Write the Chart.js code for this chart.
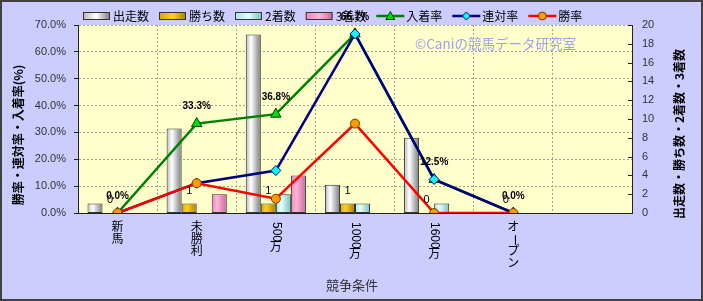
<!DOCTYPE html>
<html>
<head>
<meta charset="utf-8">
<script src="https://cdn.jsdelivr.net/npm/chart.js@4.4.1/dist/chart.umd.min.js"></script>
<style>
  html, body { margin: 0; padding: 0; background: #ccccff; overflow: hidden; }
</style>
</head>
<body>
<canvas id="myChart" width="703" height="301"></canvas>
<script>
var categories = ['新馬', '未勝利', '500万', '1000万', '1600万', 'オープン', ''];
var runs = [1, 9, 19, 3, 8, 0, null];
var wins = [0, 1, 1, 1, 0, 0, null];
var seconds = [0, 0, 2, 1, 1, 0, null];
var thirds = [0, 2, 4, 0, 0, 0, null];
var placeRate = [0, 33.3, 36.8, 66.7, 12.5, 0, null];
var quinellaRate = [0, 11.1, 15.8, 66.7, 12.5, 0, null];
var winRate = [0, 11.1, 5.3, 33.3, 0, 0, null];
var leftTicks = [0, 10, 20, 30, 40, 50, 60, 70];
var rightTicks = [0, 2, 4, 6, 8, 10, 12, 14, 16, 18, 20];

var CJK = "'Noto Sans CJK JP', sans-serif";
var NUM = "'Liberation Sans', 'Noto Sans CJK JP', sans-serif";

// cylinder-like gradients for the bars
var barStops = {
  '出走数': [[0, '#b8b8b8'], [0.35, '#ffffff'], [1, '#7a7a7a']],
  '勝ち数': [[0, '#d9a400'], [0.35, '#ffd21a'], [1, '#a87e00']],
  '2着数': [[0, '#a8e4e4'], [0.35, '#e4ffff'], [1, '#78c0c0']],
  '3着数': [[0, '#e888b8'], [0.35, '#ffb4da'], [1, '#c86898']]
};

function makeGrad(ctx, x0, x1, stops) {
  var g = ctx.createLinearGradient(x0, 0, x1, 0);
  stops.forEach(function (s) { g.addColorStop(s[0], s[1]); });
  return g;
}

function zeroless(c) { return c.raw ? 1 : 0; }

var bgPlugin = {
  id: 'bg',
  beforeDraw: function (chart) {
    var ctx = chart.ctx, a = chart.chartArea;
    ctx.save();
    ctx.fillStyle = '#ccccff';
    ctx.fillRect(0, 0, chart.width, chart.height);
    ctx.fillStyle = '#ffffcc';
    ctx.fillRect(a.left, a.top, a.right - a.left, a.bottom - a.top);
    ctx.restore();
  },
  beforeDatasetsDraw: function (chart) {
    var ctx = chart.ctx;
    // watermark
    ctx.save();
    ctx.fillStyle = '#a0a0f0';
    ctx.font = '13.5px ' + CJK;
    ctx.textAlign = 'left';
    ctx.textBaseline = 'middle';
    ctx.fillText('©Caniの競馬データ研究室', 415, 44);
    ctx.restore();
    // bar gradients
    chart.data.datasets.forEach(function (ds, i) {
      if (ds.type !== 'bar') return;
      chart.getDatasetMeta(i).data.forEach(function (el) {
        el.options.backgroundColor = makeGrad(ctx, el.x - el.width / 2, el.x + el.width / 2, barStops[ds.label]);
      });
    });
  },
  afterDatasetsDraw: function (chart) {
    var ctx = chart.ctx;
    ctx.save();
    ctx.fillStyle = '#000';
    ctx.textAlign = 'center';
    ctx.textBaseline = 'middle';
    chart.data.datasets.forEach(function (ds, i) {
      var meta = chart.getDatasetMeta(i);
      if (ds.label === '勝ち数') {
        ctx.font = '11px ' + NUM;
        meta.data.forEach(function (el, j) {
          if (ds.data[j] === null) return;
          ctx.fillText(String(ds.data[j]), el.x, el.y - 13);
        });
      }
      if (ds.label === '入着率') {
        ctx.font = 'bold 10px ' + NUM;
        meta.data.forEach(function (el, j) {
          if (ds.data[j] === null) return;
          ctx.fillText(ds.data[j].toFixed(1) + '%', el.x, el.y - 17);
        });
      }
    });
    ctx.restore();
  },
  afterDraw: function (chart) {
    var ctx = chart.ctx, a = chart.chartArea;
    var xs = chart.scales.x, y2 = chart.scales.y2;
    ctx.save();

    // inward ticks on the right axis
    ctx.strokeStyle = '#222';
    ctx.lineWidth = 1;
    rightTicks.forEach(function (v) {
      var py = Math.round(y2.getPixelForValue(v)) + 0.5;
      ctx.beginPath();
      ctx.moveTo(a.right - 4, py);
      ctx.lineTo(a.right, py);
      ctx.stroke();
    });

    // vertical category labels
    ctx.fillStyle = '#000';
    ctx.font = '12px ' + NUM;
    categories.forEach(function (label, i) {
      var x = xs.getPixelForValue(i), y = a.bottom + 9;
      for (var ch of label) {
        if (/[0-9A-Za-zー]/.test(ch)) {
          var w = ctx.measureText(ch).width;
          ctx.save();
          ctx.translate(x, y);
          ctx.rotate(Math.PI / 2);
          ctx.textAlign = 'left';
          ctx.textBaseline = 'middle';
          ctx.fillText(ch, 0, 0);
          ctx.restore();
          y += w;
        } else {
          ctx.textAlign = 'center';
          ctx.textBaseline = 'top';
          ctx.fillText(ch, x, y);
          y += 12;
        }
      }
    });

    // axis titles
    ctx.fillStyle = '#333';
    ctx.font = '13px ' + CJK;
    ctx.textAlign = 'center';
    ctx.textBaseline = 'middle';
    ctx.fillText('競争条件', (a.left + a.right) / 2 - 3, 285);

    ctx.fillStyle = '#000';
    ctx.font = 'bold 12px ' + CJK;
    ctx.save();
    ctx.translate(18, 135);
    ctx.rotate(-Math.PI / 2);
    ctx.fillText('勝率・連対率・入着率(%)', 0, 0);
    ctx.restore();
    ctx.save();
    ctx.translate(679, 134);
    ctx.rotate(-Math.PI / 2);
    ctx.fillText('出走数・勝ち数・2着数・3着数', 0, 0);
    ctx.restore();

    // legend
    var x = 83, ly = 16;
    ctx.textAlign = 'left';
    ctx.font = '12px ' + CJK;
    chart.data.datasets.slice().sort(function (p, q) { return p.legendPos - q.legendPos; }).forEach(function (ds) {
      if (ds.type === 'bar') {
        ctx.fillStyle = makeGrad(ctx, x, x + 27, [[0, barStops[ds.label][0][1]], [0.5, barStops[ds.label][1][1]], [1, barStops[ds.label][2][1]]]);
        ctx.fillRect(x + 0.5, ly - 3.5, 26, 7);
        ctx.strokeStyle = '#333';
        ctx.lineWidth = 1;
        ctx.strokeRect(x + 0.5, ly - 3.5, 26, 7);
      } else {
        ctx.strokeStyle = ds.borderColor;
        ctx.lineWidth = 2.5;
        ctx.beginPath();
        ctx.moveTo(x, ly);
        ctx.lineTo(x + 28, ly);
        ctx.stroke();
        var cx = x + 14;
        ctx.fillStyle = ds.pointBackgroundColor;
        ctx.strokeStyle = ds.pointBorderColor;
        ctx.lineWidth = 1;
        ctx.beginPath();
        if (ds.pointStyle === 'triangle') {
          ctx.moveTo(cx, ly - 4.5); ctx.lineTo(cx + 4.5, ly + 3.5); ctx.lineTo(cx - 4.5, ly + 3.5); ctx.closePath();
        } else if (ds.pointStyle === 'rectRot') {
          ctx.moveTo(cx, ly - 4); ctx.lineTo(cx + 4, ly); ctx.lineTo(cx, ly + 4); ctx.lineTo(cx - 4, ly); ctx.closePath();
        } else {
          ctx.arc(cx, ly, 4, 0, Math.PI * 2);
        }
        ctx.fill();
        ctx.stroke();
      }
      ctx.fillStyle = '#000';
      ctx.fillText(ds.label, x + 30, ly);
      x += 30 + ctx.measureText(ds.label).width + 10;
    });

    // outer frame
    ctx.strokeStyle = '#404040';
    ctx.lineWidth = 2;
    ctx.strokeRect(1, 1, chart.width - 2, chart.height - 2);
    ctx.restore();
  }
};

var ctx = document.getElementById('myChart').getContext('2d');
var myChart = new Chart(ctx, {
  type: 'bar',
  data: {
    labels: categories,
    datasets: [
      {
        type: 'line', label: '勝率', data: winRate, yAxisID: 'y', order: 0, legendPos: 6,
        borderColor: '#ff0000', borderWidth: 2.5, tension: 0,
        pointStyle: 'circle', pointRadius: 4.5, pointBackgroundColor: '#ff9900',
        pointBorderColor: '#7a3d00', pointBorderWidth: 1
      },
      {
        type: 'line', label: '連対率', data: quinellaRate, yAxisID: 'y', order: 1, legendPos: 5,
        borderColor: '#000080', borderWidth: 2.5, tension: 0,
        pointStyle: 'rectRot', pointRadius: 5, pointBackgroundColor: '#00ffff',
        pointBorderColor: '#000080', pointBorderWidth: 1
      },
      {
        type: 'line', label: '入着率', data: placeRate, yAxisID: 'y', order: 2, legendPos: 4,
        borderColor: '#008000', borderWidth: 2.5, tension: 0,
        pointStyle: 'triangle', pointRadius: 6, pointBackgroundColor: '#00dd00',
        pointBorderColor: '#004000', pointBorderWidth: 1
      },
      {
        type: 'bar', label: '出走数', data: runs, yAxisID: 'y2', order: 3, legendPos: 0,
        backgroundColor: '#ffffff', borderColor: '#333', borderWidth: zeroless, borderSkipped: false
      },
      {
        type: 'bar', label: '勝ち数', data: wins, yAxisID: 'y2', order: 3, legendPos: 1,
        backgroundColor: '#ffc000', borderColor: '#333', borderWidth: zeroless, borderSkipped: false
      },
      {
        type: 'bar', label: '2着数', data: seconds, yAxisID: 'y2', order: 3, legendPos: 2,
        backgroundColor: '#ccffff', borderColor: '#333', borderWidth: zeroless, borderSkipped: false
      },
      {
        type: 'bar', label: '3着数', data: thirds, yAxisID: 'y2', order: 3, legendPos: 3,
        backgroundColor: '#ff99cc', borderColor: '#333', borderWidth: zeroless, borderSkipped: false
      }
    ]
  },
  options: {
    responsive: false,
    animation: false,
    events: [],
    devicePixelRatio: 1,
    layout: { padding: { top: 25, left: 0, right: 0, bottom: 0 } },
    datasets: { bar: { categoryPercentage: 0.76, barPercentage: 1 } },
    plugins: {
      legend: { display: false },
      tooltip: { enabled: false }
    },
    scales: {
      x: {
        offset: true,
        ticks: { display: false },
        grid: { display: true, offset: true, color: '#a0a0a0', drawTicks: false },
        border: { display: true, color: '#222', dash: [2, 2] },
        afterFit: function (s) { s.height = 88; }
      },
      y: {
        position: 'left',
        min: 0, max: 70,
        afterBuildTicks: function (s) { s.ticks = leftTicks.map(function (v) { return { value: v }; }); },
        ticks: {
          color: '#333', font: { family: NUM, size: 11 }, padding: 8,
          callback: function (v) { return v.toFixed(1) + '%'; }
        },
        grid: { color: '#a0a0a0', tickColor: '#222', tickLength: 4 },
        border: { display: true, color: '#222', dash: [2, 2] },
        afterFit: function (s) { s.width = 78; }
      },
      y2: {
        position: 'right',
        min: 0, max: 20,
        afterBuildTicks: function (s) { s.ticks = rightTicks.map(function (v) { return { value: v }; }); },
        ticks: { color: '#333', font: { family: NUM, size: 11 }, padding: 10 },
        grid: { display: false, drawTicks: false },
        border: { display: true, color: '#222' },
        afterFit: function (s) { s.width = 71; }
      }
    }
  },
  plugins: [bgPlugin]
});
</script>
</body>
</html>
